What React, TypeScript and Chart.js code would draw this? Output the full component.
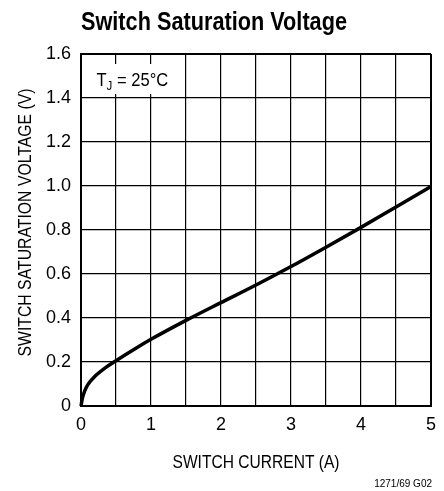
import React, { useEffect, useRef } from 'react';
import { Chart, registerables } from 'chart.js';

Chart.register(...registerables);

const TITLE = 'Switch Saturation Voltage';
const X_TITLE = 'SWITCH CURRENT (A)';
const Y_TITLE = 'SWITCH SATURATION VOLTAGE (V)';
const NOTE = '1271/69 G02';
const COND_MAIN = 'T';
const COND_SUB = 'J';
const COND_REST = ' = 25°C';

const SWITCH_CURRENT = [0, 0.02, 0.05, 0.1, 0.2, 0.35, 0.5, 0.75, 1, 1.5, 2, 2.5, 3, 3.5, 4, 4.5, 5];
const SAT_VOLTAGE = [0, 0.036, 0.066, 0.098, 0.135, 0.174, 0.206, 0.256, 0.303, 0.389, 0.47, 0.55, 0.634, 0.722, 0.812, 0.905, 0.998];

const X_MIN = 0;
const X_MAX = 5;
const X_GRID_STEP = 0.5;
const Y_MIN = 0;
const Y_MAX = 1.6;
const Y_STEP = 0.2;

const FONT = "'Liberation Sans Narrow', 'Arial Narrow', 'Liberation Sans', Arial, sans-serif";

function fitText(ctx: CanvasRenderingContext2D, text: string, cx: number, cy: number, width: number, rot: number) {
  const w = ctx.measureText(text).width;
  ctx.save();
  ctx.translate(cx, cy);
  ctx.rotate(rot);
  ctx.scale(width / w, 1);
  ctx.textAlign = 'center';
  ctx.textBaseline = 'middle';
  ctx.fillText(text, 0, 0);
  ctx.restore();
}

const annotations = {
  id: 'annotations',
  afterDraw(chart: any) {
    const ctx = chart.ctx as CanvasRenderingContext2D;
    const area = chart.chartArea;
    ctx.save();
    ctx.fillStyle = '#000';
    ctx.textBaseline = 'alphabetic';

    // Title, fitted to width
    ctx.font = `bold 26px ${FONT}`;
    const tw = ctx.measureText(TITLE).width;
    ctx.save();
    ctx.translate(81, 29.5);
    ctx.scale(266 / tw, 1);
    ctx.fillText(TITLE, 0, 0);
    ctx.restore();

    // Axis titles (condensed)
    ctx.font = `19px ${FONT}`;
    fitText(ctx, X_TITLE, (area.left + area.right) / 2, 463, 167, 0);
    fitText(ctx, Y_TITLE, 26, 222.5, 268, -Math.PI / 2);

    // Condition label with white box
    ctx.fillStyle = '#fff';
    ctx.fillRect(82, 64, 99, 30);
    ctx.fillStyle = '#000';
    ctx.save();
    ctx.translate(96.5, 86);
    ctx.scale(0.92, 1);
    ctx.font = `18px ${FONT}`;
    let x = 0;
    ctx.fillText(COND_MAIN, x, 0);
    x += ctx.measureText(COND_MAIN).width;
    ctx.font = `12.5px ${FONT}`;
    ctx.fillText(COND_SUB, x, 3.5);
    x += ctx.measureText(COND_SUB).width;
    ctx.font = `18px ${FONT}`;
    ctx.fillText(COND_REST, x, 0);
    ctx.restore();

    // Footnote
    ctx.font = `10px ${FONT}`;
    ctx.textAlign = 'right';
    ctx.fillText(NOTE, 432, 486.5);
    ctx.restore();
  },
};

export default function App() {
  const ref = useRef<HTMLCanvasElement | null>(null);

  useEffect(() => {
    document.body.style.margin = '0';
    const canvas = ref.current;
    if (!canvas) return;
    const points = SWITCH_CURRENT.map((x, i) => ({ x, y: SAT_VOLTAGE[i] }));
    const edgeWidth = (ctx: any) => {
      const n = ctx.scale.ticks.length;
      return ctx.index === 0 || ctx.index === n - 1 ? 2 : 1.2;
    };
    const chart = new Chart(canvas, {
      type: 'line',
      data: {
        datasets: [
          {
            data: points,
            borderColor: '#000',
            borderWidth: 3.5,
            pointRadius: 0,
            cubicInterpolationMode: 'monotone',
            fill: false,
            clip: false as any,
          },
        ],
      },
      plugins: [annotations],
      options: {
        responsive: false,
        animation: false,
        events: [],
        layout: { padding: { top: 54, right: 11, left: 0, bottom: 0 } },
        plugins: { legend: { display: false }, tooltip: { enabled: false }, title: { display: false } },
        scales: {
          x: {
            type: 'linear',
            min: X_MIN,
            max: X_MAX,
            afterFit: (s: any) => {
              s.height = 85;
            },
            ticks: {
              stepSize: X_GRID_STEP,
              autoSkip: false,
              maxRotation: 0,
              padding: 8,
              color: '#000',
              font: { family: FONT, size: 18 },
              callback: (v: any) => (Number.isInteger(Number(v)) ? String(v) : ''),
            },
            grid: { color: '#000', lineWidth: edgeWidth, drawTicks: false },
            border: { display: true, color: '#000', width: 2 },
          },
          y: {
            type: 'linear',
            min: Y_MIN,
            max: Y_MAX,
            afterFit: (s: any) => {
              s.width = 81;
            },
            ticks: {
              stepSize: Y_STEP,
              padding: 10,
              color: '#000',
              font: { family: FONT, size: 18 },
              callback: (v: any) => (Number(v) === 0 ? '0' : Number(v).toFixed(1)),
            },
            grid: { color: '#000', lineWidth: edgeWidth, drawTicks: false },
            border: { display: true, color: '#000', width: 2 },
          },
        },
      },
    });
    return () => chart.destroy();
  }, []);

  return (
    <div style={{ width: 444, height: 491 }}>
      <canvas ref={ref} width={444} height={491} style={{ display: 'block' }} />
    </div>
  );
}
